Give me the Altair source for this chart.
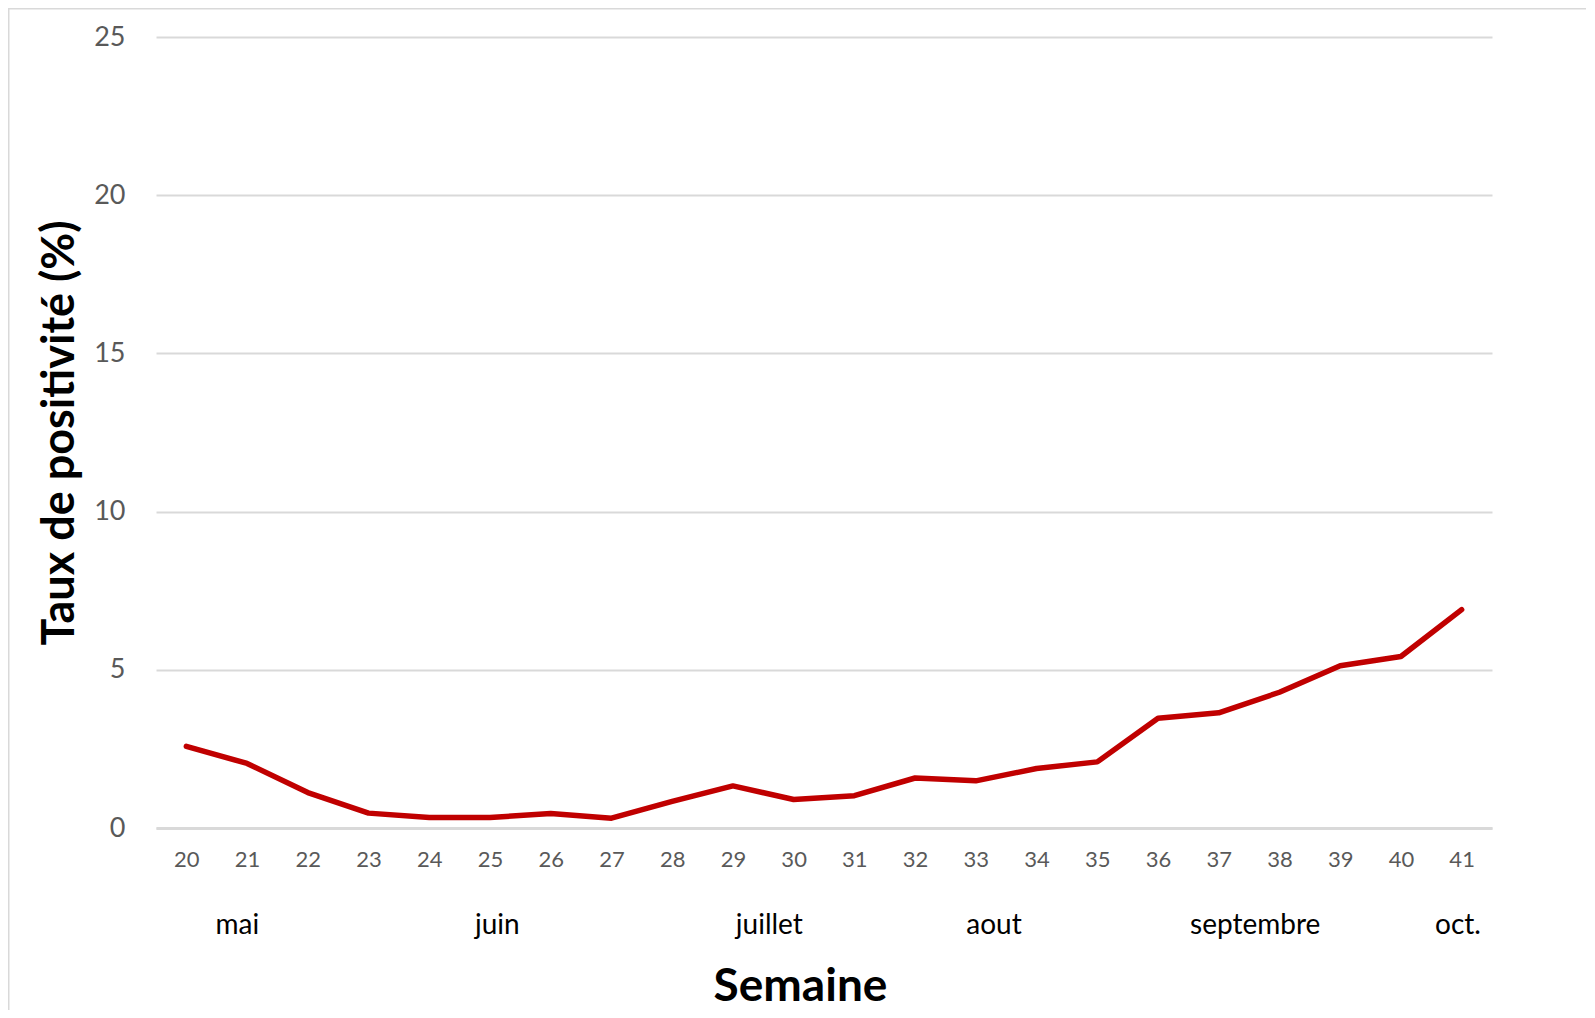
import altair as alt
import pandas as pd

weeks = list(range(20, 42))
taux = [2.58, 2.04, 1.12, 0.47, 0.33, 0.33, 0.46, 0.31, 0.84, 1.33, 0.90,
        1.02, 1.58, 1.49, 1.88, 2.09, 3.47, 3.64, 4.29, 5.13, 5.42, 6.90]

months = ["mai", "juin", "juillet", "aout", "septembre", "oct."]
month_pos = [20.84, 25.12, 29.6, 33.3, 37.6, 40.94]

W, H = 1336, 791
FONT = "Lato"

df = pd.DataFrame({"semaine": weeks, "taux": taux})
dm = pd.DataFrame({"mois": months, "pos": month_pos})

xscale = alt.Scale(domain=[19.5, 41.5], nice=False, zero=False)
yscale = alt.Scale(domain=[0, 25], nice=False)

line = alt.Chart(df).mark_line(
    color="#c00000", strokeWidth=5.5, strokeCap="round", strokeJoin="round"
).encode(
    x=alt.X("semaine:Q", scale=xscale,
            axis=alt.Axis(values=weeks, format="d", title="Semaine", grid=False,
                          ticks=False, tickSize=0, labelPadding=31,
                          labelBaseline="middle",
                          labelFontSize=22, labelColor="#595959", labelFont=FONT,
                          domainColor="#d9d9d9", domainWidth=3,
                          titleFont=FONT, titleFontSize=46, titleFontWeight="bold",
                          titleColor="#000000", titleX=644, titleY=172,
                          titleBaseline="alphabetic", titleAlign="center")),
    y=alt.Y("taux:Q", scale=yscale,
            axis=alt.Axis(values=[0, 5, 10, 15, 20, 25], title="Taux de positivité (%)",
                          grid=True, gridColor="#d9d9d9", gridWidth=2,
                          domain=False, ticks=False, tickSize=0, labelPadding=31,
                          labelFontSize=27, labelColor="#595959", labelFont=FONT,
                          titleFont=FONT, titleFontSize=45, titleFontWeight="bold",
                          titleColor="#000000", titleAngle=270, titleX=-97,
                          titleY=H / 2, titleAlign="center", titleBaseline="middle")),
)

month_text = alt.Chart(dm).mark_text(
    font=FONT, fontSize=28, color="#000000", baseline="alphabetic", align="center"
).encode(
    x=alt.X("pos:Q", scale=xscale),
    text="mois:N",
    y=alt.value(897),
)

border = alt.Chart(pd.DataFrame({"b": [0]})).mark_rect(
    fillOpacity=0, stroke="#d9d9d9", strokeWidth=1.5
).encode(
    x=alt.value(-147.25), x2=alt.value(W + 400),
    y=alt.value(-28.25), y2=alt.value(H + 400),
)

chart = alt.layer(border, line, month_text).properties(
    width=W, height=H,
    autosize=alt.AutoSizeParams(type="none"),
    padding={"left": 148, "top": 29, "right": 94, "bottom": 182},
).configure(background="#ffffff").configure_view(stroke=None)

chart.save("out.html", embed_options={"renderer": "svg", "actions": False})
